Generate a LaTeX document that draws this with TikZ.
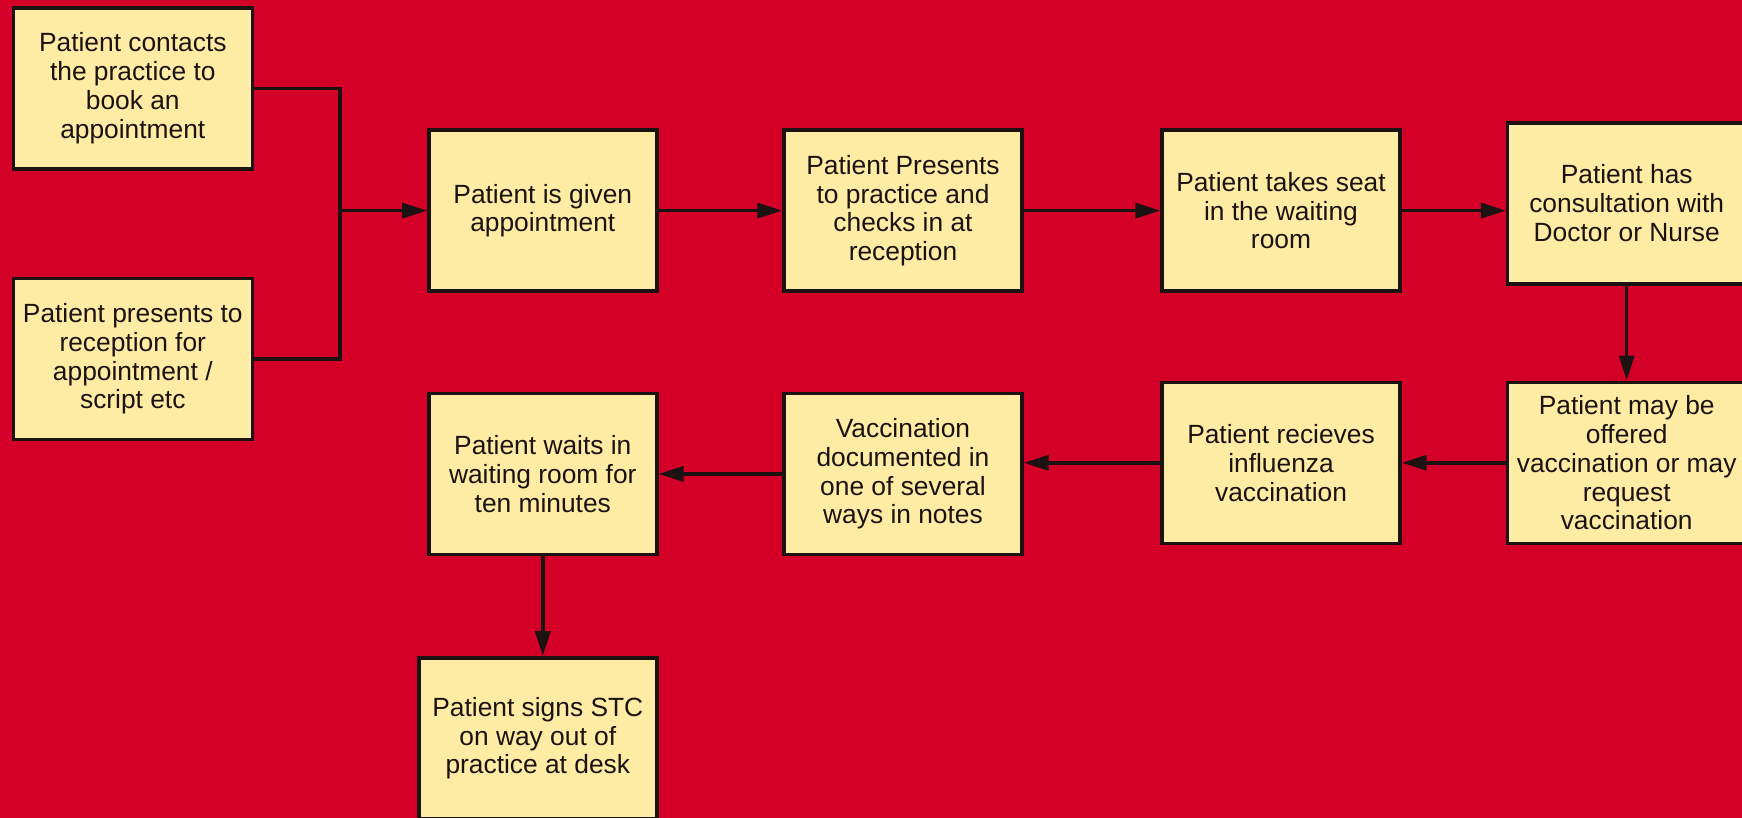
\documentclass[tikz,border=0pt]{standalone}
\usepackage{fontspec}
\setmainfont{Liberation Sans}
\usetikzlibrary{arrows.meta,positioning,calc}

\definecolor{bgred}{RGB}{213,0,39}
\definecolor{boxfill}{RGB}{254,236,165}
\definecolor{ink}{RGB}{28,18,18}

\begin{document}
\begin{tikzpicture}[x=0.02cm, y=-0.02cm,
    flowbox/.style={draw=ink, line width=0.07cm, fill=boxfill, text=ink, align=center,
        minimum width=4.76cm, minimum height=3.22cm, inner sep=0pt,
        font=\fontsize{15pt}{16.4pt}\selectfont},
    flow/.style={draw=ink, line width=0.07cm, -{Triangle[length=0.5cm, width=0.3cm]}}]
    % Background and page size
    \fill[bgred] (0,0) rectangle (1742,818);
    \useasboundingbox (0,0) rectangle (1742,818);

    % Ways in
    \node[flowbox, minimum width=4.78cm] (contact) at (132.8, 88.3) {Patient contacts\\the practice to\\book an\\appointment};
    \node[flowbox, minimum width=4.78cm] (walkin) at (132.8, 358.9) {Patient presents to\\reception for\\appointment /\\script etc};

    % Top row
    \node[flowbox, minimum width=4.56cm] (given) at (542.8, 210.6) {Patient is given\\appointment};
    \node[flowbox] (checkin) at (903, 210.6) {Patient Presents\\to practice and\\checks in at\\reception};
    \node[flowbox] (seat) at (1281, 210.6) {Patient takes seat\\in the waiting\\room};
    \node[flowbox] (consult) at (1626.7, 203.3) {Patient has\\consultation with\\Doctor or Nurse};

    % Bottom row
    \node[flowbox] (offer) at (1626.7, 462.8) {Patient may be\\offered\\vaccination or may\\request\\vaccination};
    \node[flowbox] (receive) at (1281, 462.8) {Patient recieves\\influenza\\vaccination};
    \node[flowbox] (document) at (903, 473.9) {Vaccination\\documented in\\one of several\\ways in notes};
    \node[flowbox, minimum width=4.56cm] (wait) at (542.8, 473.9) {Patient waits in\\waiting room for\\ten minutes};
    \node[flowbox] (sign) at (537.8, 738.3) {Patient signs STC\\on way out of\\practice at desk};

    % Merge of the two ways in
    \coordinate (merge) at (340, 210.6);
    \draw[draw=ink, line width=0.07cm] (contact.east) -| (merge) |- (walkin.east);
    \draw[flow] (merge) -- (given.west);

    % Connectors
    \draw[flow] (given) -- (checkin);
    \draw[flow] (checkin) -- (seat);
    \draw[flow] (seat.east) -- (seat.east -| consult.west);
    \draw[flow] (consult) -- (offer);
    \draw[flow] (offer) -- (receive);
    \draw[flow] (receive.west) -- (receive.west -| document.east);
    \draw[flow] (document) -- (wait);
    \draw[flow] (wait.south) -- (wait.south |- sign.north);
\end{tikzpicture}
\end{document}
